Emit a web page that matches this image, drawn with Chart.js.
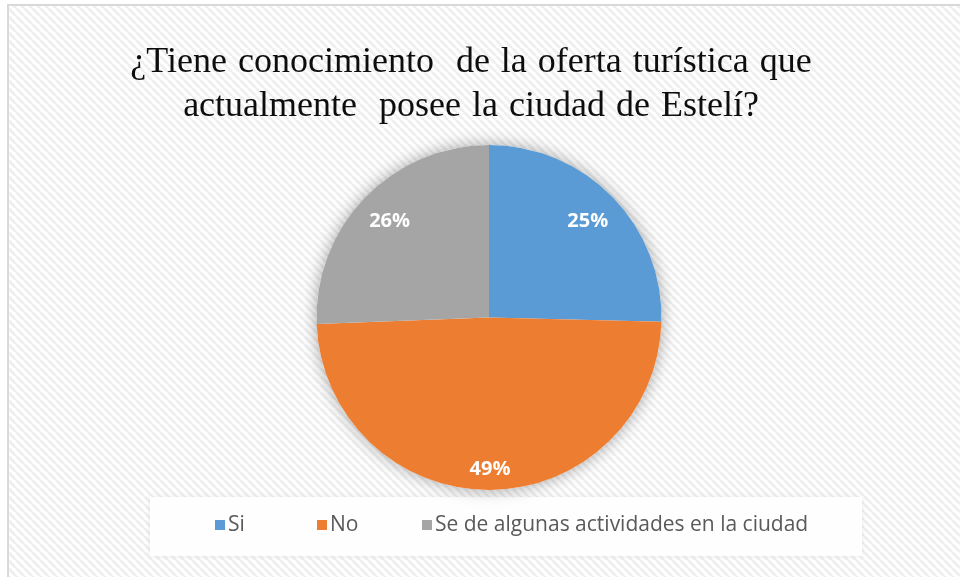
<!DOCTYPE html>
<html>
<head>
<meta charset="utf-8">
<script src="https://cdn.jsdelivr.net/npm/chart.js@4/dist/chart.umd.min.js"></script>
<style>
  html, body { margin: 0; padding: 0; background: #fff; }
  #wrap { width: 960px; height: 577px; }
</style>
</head>
<body>
<div id="wrap"><canvas id="chart" width="960" height="577"></canvas></div>
<script>
// datos de la encuesta
const TITLE_LINES = [
  '¿Tiene conocimiento  de la oferta turística que',
  'actualmente  posee la ciudad de Estelí?',
];
const CATEGORIES = ['Si', 'No', 'Se de algunas actividades en la ciudad'];
const VALUES = [25.4, 49.0, 25.6];
const COLORS = ['#5b9bd5', '#ed7d31', '#a5a5a5'];

// fondo rayado, marco, sombra del pastel, título y leyenda al estilo Excel
const excelFrame = {
  id: 'excelFrame',
  beforeDraw(chart) {
    const { ctx, width, height } = chart;
    const tile = document.createElement('canvas');
    tile.width = 8; tile.height = 8;
    const t = tile.getContext('2d');
    t.fillStyle = '#ffffff';
    t.fillRect(0, 0, 8, 8);
    t.strokeStyle = '#efefef';
    t.lineWidth = 3;
    for (let i = -1; i <= 1; i++) {
      t.beginPath();
      t.moveTo(i * 8, 0);
      t.lineTo(i * 8 + 8, 8);
      t.stroke();
    }
    ctx.save();
    ctx.fillStyle = '#ffffff';
    ctx.fillRect(0, 0, width, height);
    ctx.fillStyle = ctx.createPattern(tile, 'repeat');
    ctx.fillRect(8, 5, width - 8, height - 5);
    ctx.fillStyle = '#d9d9d9';
    ctx.fillRect(7, 4, 2, height - 4);
    ctx.fillRect(7, 4, width - 7, 2);

    // caja de la leyenda
    ctx.shadowColor = 'rgba(0,0,0,0.08)';
    ctx.shadowBlur = 6;
    ctx.fillStyle = 'rgba(255,255,255,0.95)';
    ctx.fillRect(150, 497, 712, 59);
    ctx.shadowBlur = 0;

    // título
    ctx.fillStyle = '#0d0d0d';
    ctx.font = '36px "Liberation Serif", "Times New Roman", serif';
    ctx.textAlign = 'center';
    ctx.textBaseline = 'alphabetic';
    ctx.wordSpacing = '2px';
    TITLE_LINES.forEach((line, i) => ctx.fillText(line, 471, 72 + i * 44));
    ctx.wordSpacing = '0px';

    // leyenda
    const xs = [215, 317, 422];
    ctx.font = '21px "Open Sans", sans-serif';
    ctx.textAlign = 'left';
    ctx.textBaseline = 'middle';
    CATEGORIES.forEach((c, i) => {
      ctx.fillStyle = COLORS[i];
      ctx.fillRect(xs[i], 520, 10, 10);
      ctx.fillStyle = '#595959';
      ctx.fillText(c, xs[i] + 13, 525);
    });
    ctx.restore();
  },
  beforeDatasetsDraw(chart) {
    const arc = chart.getDatasetMeta(0).data[0];
    if (!arc) return;
    const { ctx } = chart;
    ctx.save();
    ctx.shadowColor = 'rgba(0,0,0,0.35)';
    ctx.shadowBlur = 16;
    ctx.fillStyle = '#ffffff';
    ctx.beginPath();
    ctx.arc(arc.x, arc.y, arc.outerRadius, 0, Math.PI * 2);
    ctx.fill();
    ctx.restore();
  },
};

// etiquetas de porcentaje dentro de cada porción
const sliceLabels = {
  id: 'sliceLabels',
  afterDatasetsDraw(chart, args, opts) {
    const { ctx } = chart;
    const meta = chart.getDatasetMeta(0);
    const total = VALUES.reduce((s, v) => s + v, 0);
    ctx.save();
    ctx.fillStyle = '#ffffff';
    ctx.font = 'bold 20px "Open Sans", sans-serif';
    ctx.textAlign = 'center';
    ctx.textBaseline = 'middle';
    meta.data.forEach((arc, i) => {
      const mid = (arc.startAngle + arc.endAngle) / 2;
      const r = arc.outerRadius * opts.radii[i];
      const x = arc.x + Math.cos(mid) * r;
      const y = arc.y + Math.sin(mid) * r;
      ctx.fillText(`${Math.round(VALUES[i] / total * 100)}%`, x, y);
    });
    ctx.restore();
  },
};

new Chart(document.getElementById('chart'), {
  type: 'pie',
  data: {
    labels: CATEGORIES,
    datasets: [{
      data: VALUES,
      backgroundColor: COLORS,
      borderWidth: 0,
    }],
  },
  options: {
    responsive: false,
    devicePixelRatio: 1,
    animation: false,
    events: [],
    layout: { padding: { top: 145, bottom: 87, left: 18, right: 0 } },
    plugins: {
      legend: { display: false },
      tooltip: { enabled: false },
      title: { display: false },
      sliceLabels: { radii: [0.8, 0.88, 0.8] },
    },
  },
  plugins: [excelFrame, sliceLabels],
});
</script>
</body>
</html>
